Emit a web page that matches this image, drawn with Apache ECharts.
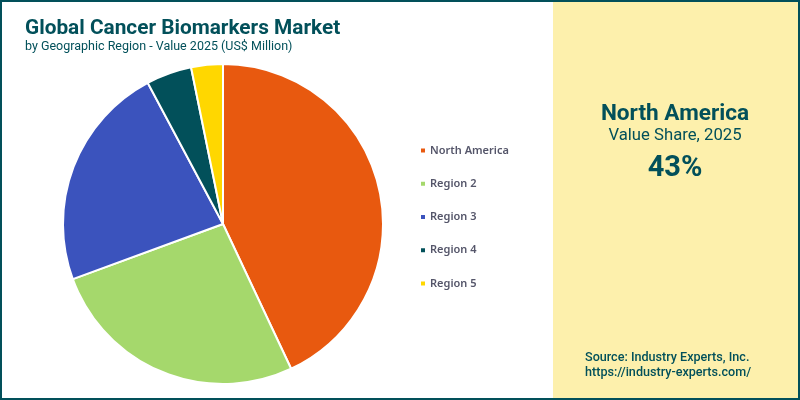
<!DOCTYPE html>
<html>
<head>
<meta charset="utf-8">
<title>Global Cancer Biomarkers Market</title>
<style>
html, body { margin: 0; padding: 0; background: #fff; }
#chart { width: 800px; height: 400px; }
</style>
<script src="https://cdn.jsdelivr.net/npm/echarts@6/dist/echarts.min.js"></script>
</head>
<body>
<div id="chart"></div>
<script>
var regions = ["North America", "Region 2", "Region 3", "Region 4", "Region 5"];
var shares = [43, 26.4, 22.8, 4.6, 3.2];
var colors = ["#e8590f", "#a5d86c", "#3b53bd", "#02505a", "#ffd700"];

var teal = "#02505a";
var font = "Roboto";

var pieData = [];
for (var i = 0; i < regions.length; i++) {
    pieData.push({name: regions[i], value: shares[i]});
}

var myChart = echarts.init(document.getElementById("chart"));
myChart.setOption({
    animation: false,
    color: colors,
    title: [
        {
            text: "Global Cancer Biomarkers Market",
            left: 20, top: 13,
            textStyle: {fontFamily: font, fontSize: 20.8, fontWeight: "bold", color: teal}
        },
        {
            text: "by Geographic Region - Value 2025 (US$ Million)",
            left: 20, top: 35,
            textStyle: {fontFamily: font, fontSize: 12.5, fontWeight: "normal", color: teal}
        },
        {
            text: "North America",
            left: 670, top: 98, textAlign: "center",
            textStyle: {fontFamily: font, fontSize: 22.6, fontWeight: "bold", color: teal}
        },
        {
            text: "Value Share, 2025",
            left: 670, top: 122, textAlign: "center",
            textStyle: {fontFamily: font, fontSize: 16.7, fontWeight: "normal", color: teal}
        },
        {
            text: "43%",
            left: 670, top: 149, textAlign: "center",
            textStyle: {fontFamily: font, fontSize: 29, fontWeight: "bold", color: teal}
        },
        {
            text: "Source: Industry Experts, Inc.",
            left: 580, top: 346,
            textStyle: {fontFamily: font, fontSize: 12.6, fontWeight: 500, color: teal}
        },
        {
            text: "https://industry-experts.com/",
            left: 580, top: 361,
            textStyle: {fontFamily: font, fontSize: 12.6, fontWeight: 500, color: teal}
        }
    ],
    legend: {
        orient: "vertical",
        left: 414, top: 140,
        itemWidth: 6, itemHeight: 6, itemGap: 22.25,
        icon: "rect",
        selectedMode: false,
        data: regions,
        textStyle: {fontFamily: "Noto Sans", fontSize: 11, fontWeight: 600, color: "#55566a", padding: [0, 0, 0, -1]}
    },
    graphic: [
        {
            type: "rect", z: -10,
            shape: {x: 553, y: 0, width: 247, height: 400},
            style: {fill: "#fdf0ac"}
        },
        {
            type: "rect", z: 100,
            shape: {x: 1, y: 1, width: 798, height: 398},
            style: {fill: "none", stroke: teal, lineWidth: 2}
        }
    ],
    series: [
        {
            type: "pie",
            center: [223, 224],
            radius: [0, 160],
            startAngle: 90,
            clockwise: true,
            label: {show: false},
            labelLine: {show: false},
            itemStyle: {borderColor: "#fff", borderWidth: 2},
            data: pieData
        }
    ]
});
</script>
</body>
</html>
